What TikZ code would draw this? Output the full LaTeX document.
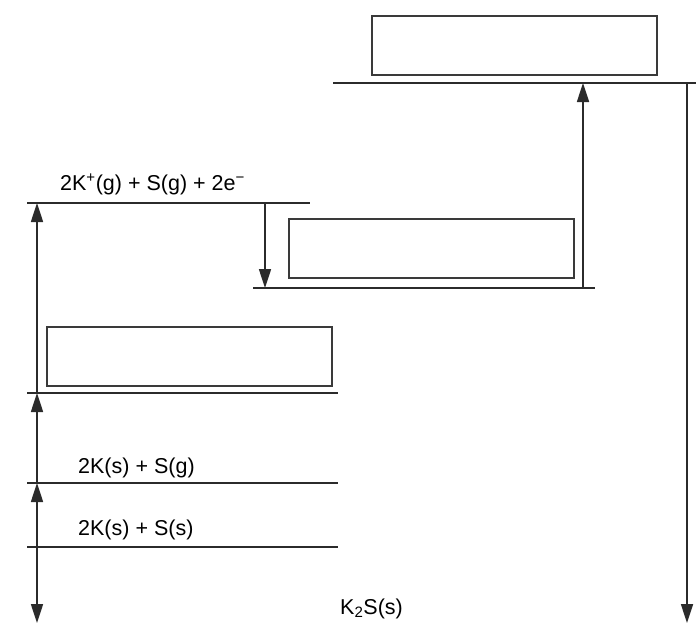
\documentclass[tikz,border=0pt]{standalone}
\usepackage{fontspec}
\setmainfont{Liberation Sans}
\usetikzlibrary{arrows.meta}
\definecolor{levline}{HTML}{2B2B2B}
\definecolor{boxline}{HTML}{3A3A3A}

\begin{document}
\begin{tikzpicture}[x=1pt, y=-1pt,
  level/.style={draw=levline, line width=1.7pt},
  valbox/.style={draw=boxline, line width=2pt, anchor=north west, inner sep=0pt},
  enarrow/.style={draw=levline, line width=1.7pt, -{Triangle[length=19pt,width=12pt]}},
  lab/.style={anchor=base west, inner sep=0pt, font=\fontsize{21.5}{25}\selectfont}]
\useasboundingbox (0,0) rectangle (696,626);
% energy levels
\coordinate (topL) at (333,83);   \coordinate (topR) at (696,83);
\coordinate (ionL) at (27,203);   \coordinate (ionR) at (310,203);
\coordinate (midL) at (253,288);  \coordinate (midR) at (595,288);
\coordinate (atmL) at (27,393);   \coordinate (atmR) at (338,393);
\coordinate (gasL) at (27,483);   \coordinate (gasR) at (338,483);
\coordinate (solL) at (27,547);   \coordinate (solR) at (338,547);
\draw[level] (topL) -- (topR);
\draw[level] (ionL) -- (ionR);
\draw[level] (midL) -- (midR);
\draw[level] (atmL) -- (atmR);
\draw[level] (gasL) -- (gasR);
\draw[level] (solL) -- (solR);
% empty boxes
\node[valbox, minimum width=285pt, minimum height=59pt] (topbox) at (371,15) {};
\node[valbox, minimum width=285pt, minimum height=59pt] (midbox) at (288,218) {};
\node[valbox, minimum width=285pt, minimum height=59pt] (atmbox) at (46,326) {};
% labels
\node[lab] (ionlab) at (60,190) {2K\textsuperscript{+}(g) + S(g) + 2e\textsuperscript{\char"2212}};
\node[lab] (gaslab) at (78,473) {2K(s) + S(g)};
\node[lab] (sollab) at (78,535) {2K(s) + S(s)};
\node[lab] (prodlab) at (340,614) {K\textsubscript{2}S(s)};
% arrows
\coordinate (a1) at (37,547); \coordinate (a2) at (37,483);
\coordinate (a3) at (37,393); \coordinate (a4) at (37,203);
\coordinate (a5) at (37,623);
\draw[enarrow] (a1) -- (a5);
\draw[enarrow] (a1) -- (a2);
\draw[enarrow] (a2) -- (a3);
\draw[enarrow] (a3) -- (a4);
\coordinate (b1) at (265,203); \coordinate (b2) at (265,288);
\draw[enarrow] (b1) -- (b2);
\coordinate (c1) at (583,288); \coordinate (c2) at (583,83);
\draw[enarrow] (c1) -- (c2);
\coordinate (d1) at (687,83); \coordinate (d2) at (687,623);
\draw[enarrow] (d1) -- (d2);
\end{tikzpicture}
\end{document}
